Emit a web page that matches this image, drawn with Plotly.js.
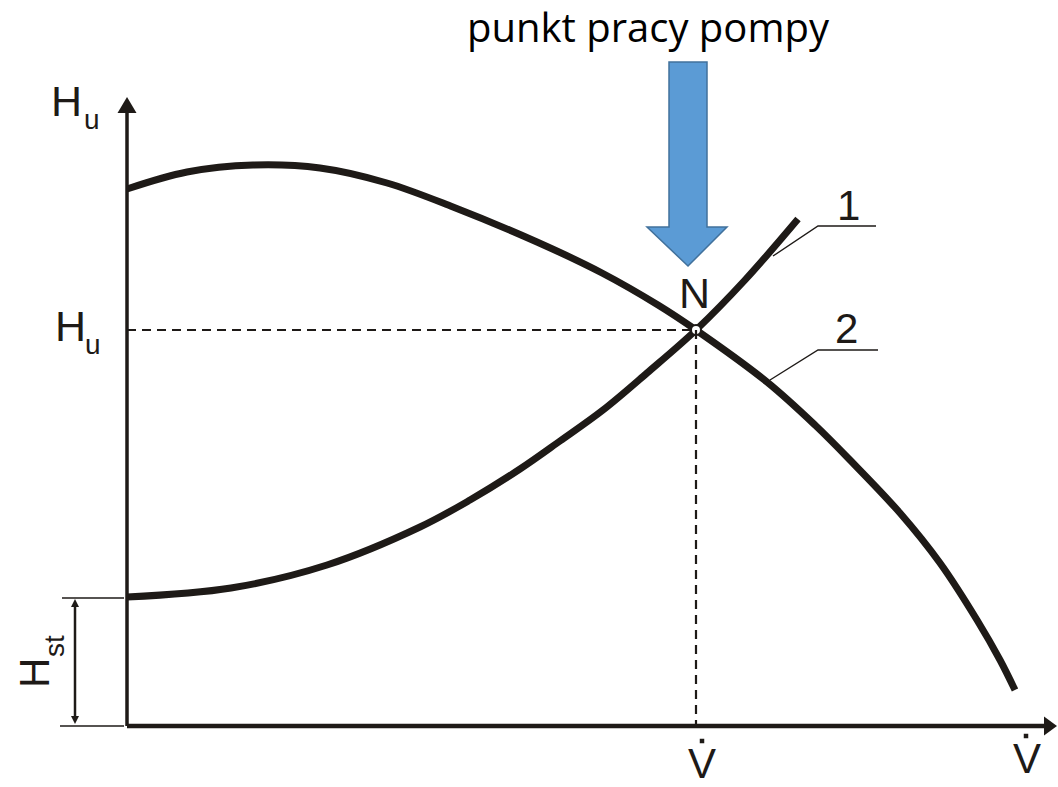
<!DOCTYPE html>
<html>
<head>
<meta charset="utf-8">
<script src="https://cdn.plot.ly/plotly-3.0.1.min.js"></script>
<style>html,body{margin:0;padding:0;background:#fff;}#chart{width:1058px;height:787px;}</style>
</head>
<body>
<div id="chart"></div>
<script>
// Pump characteristic (curve 2): flow V, head H (schematic units)
const pumpV = [0, 60, 126, 193, 260, 326, 410, 475, 531, 569, 640, 688, 723, 773, 813, 850, 873, 888];
const pumpH = [537, 554, 561, 558, 543, 519, 484, 453, 421, 396, 344, 301, 266, 213, 163, 106, 66, 36];
// System characteristic (curve 1)
const sysV = [0, 104, 200, 293, 343, 393, 433, 476, 520, 569, 618, 671];
const sysH = [129, 138, 161, 199, 226, 257, 285, 316, 353, 396, 446, 507];
// Working point N
const workV = [569];
const workH = [396];
// Static head
const staticH = 128;
// Labels
const titleText = "punkt pracy pompy";
const headLabel = "H";
const headSub = "u";
const staticLabel = "H";
const staticSub = "st";
const flowLabel = "V";
const pointLabel = "N";
const curveLabels = ["1", "2"];

const ink = "#1e1a17";
const font = "Liberation Sans, Arial, sans-serif";

const traces = [
  {x: pumpV, y: pumpH, mode: "lines", line: {color: ink, width: 7, shape: "spline", smoothing: 1}, hoverinfo: "skip"},
  {x: sysV, y: sysH, mode: "lines", line: {color: ink, width: 7, shape: "spline", smoothing: 1}, hoverinfo: "skip"},
  {x: workV, y: workH, mode: "markers", marker: {size: 10, color: "#fff", line: {color: ink, width: 2}}, hoverinfo: "skip"},
  {x: [575, 899], y: [-15, -10], mode: "markers", marker: {symbol: "square", size: 4.5, color: ink}, hoverinfo: "skip"}
];

const shapes = [
  // axes
  {type: "line", x0: 0, y0: 0, x1: 0, y1: 616, line: {color: ink, width: 3.5}},
  {type: "line", x0: 0, y0: 0, x1: 918, y1: 0, line: {color: ink, width: 4.5}},
  {type: "path", path: "M -9.5,613 L 0,629 L 9.5,613 Z", fillcolor: ink, line: {width: 0}},
  {type: "path", path: "M 917,-9.5 L 930,0 L 917,9.5 Z", fillcolor: ink, line: {width: 0}},
  // dashed guides
  {type: "line", x0: 0, y0: workH[0], x1: workV[0], y1: workH[0], line: {color: ink, width: 2.2, dash: "9px,6px"}},
  {type: "line", x0: workV[0], y0: workH[0], x1: workV[0], y1: 0, line: {color: ink, width: 2.2, dash: "9px,6px"}},
  // static head dimension
  {type: "line", x0: -65, y0: staticH, x1: -3, y1: staticH, line: {color: ink, width: 1.6}},
  {type: "line", x0: -67, y0: 0, x1: -3, y1: 0, line: {color: ink, width: 1.6}},
  {type: "line", x0: -52, y0: 119, x1: -52, y1: 10, line: {color: ink, width: 2.5}},
  {type: "path", path: "M -56,119 L -52,127 L -48,119 Z", fillcolor: ink, line: {width: 0}},
  {type: "path", path: "M -56,10 L -52,2 L -48,10 Z", fillcolor: ink, line: {width: 0}},
  // leaders
  {type: "path", path: "M 646,470 L 691,500 L 749,500", line: {color: ink, width: 1.4}},
  {type: "path", path: "M 643,346 L 691,376 L 751,376", line: {color: ink, width: 1.4}},
  // blue arrow
  {type: "path", path: "M 542,664 L 580,664 L 580,499 L 600,499 L 561,460 L 520,499 L 542,499 Z",
   fillcolor: "#5b9bd5", line: {color: "#41719c", width: 1.5}}
];

function ann(text, x, y, size, extra) {
  return Object.assign({text: text, x: x, y: y, xref: "x", yref: "y", showarrow: false,
    xanchor: "center", yanchor: "middle", font: {family: font, size: size, color: ink}}, extra || {});
}

const annotations = [
  ann(headLabel, -61, 625, 43),
  ann(headSub, -35, 607, 28),
  ann(headLabel, -57, 400, 43),
  ann(headSub, -34, 382, 28),
  ann(staticLabel, -93, 53, 42, {textangle: -90}),
  ann(staticSub, -73, 80, 28, {textangle: -90}),
  ann(flowLabel, 575, -37, 42),
  ann(flowLabel, 900, -32, 42),
  ann(pointLabel, 567, 433, 43),
  ann(curveLabels[0], 721, 521, 42),
  ann(curveLabels[1], 719, 398, 42)
];

const layout = {
  width: 1058, height: 787, autosize: false,
  margin: {l: 0, r: 0, t: 0, b: 0, pad: 0},
  paper_bgcolor: "#fff", plot_bgcolor: "#fff",
  showlegend: false,
  title: {text: titleText, font: {family: "Open Sans, sans-serif", size: 40, color: "#000"},
    x: 648 / 1058, xref: "paper", xanchor: "center", y: 1 - 28 / 787, yref: "container", yanchor: "middle"},
  xaxis: {range: [-127, 931], visible: false, fixedrange: true},
  yaxis: {range: [-61, 726], visible: false, fixedrange: true},
  shapes: shapes,
  annotations: annotations
};

Plotly.newPlot("chart", traces, layout, {displayModeBar: false, staticPlot: true});
</script>
</body>
</html>
